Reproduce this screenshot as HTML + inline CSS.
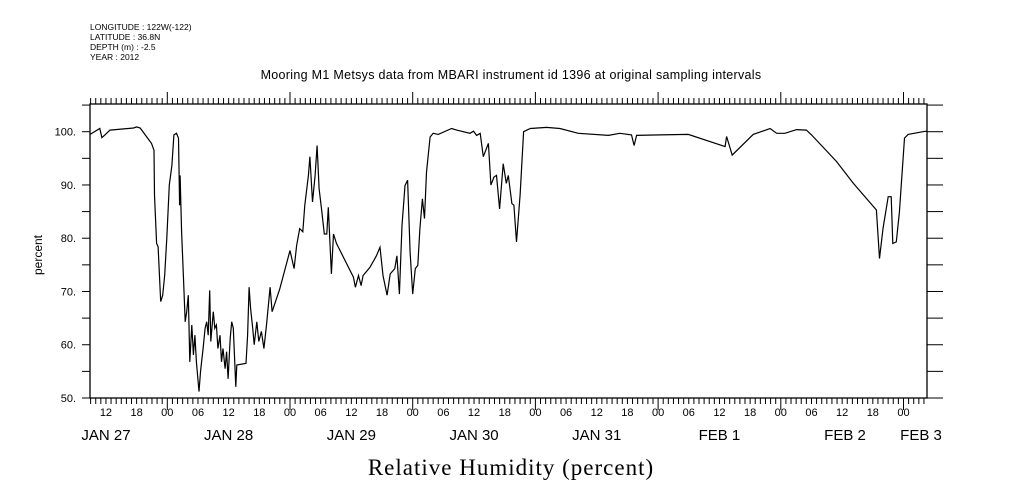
<!DOCTYPE html>
<html><head><meta charset="utf-8"><style>
body{margin:0;background:#fff;}
svg{display:block;font-family:"Liberation Sans",sans-serif;}
</style></head><body>
<svg width="1009" height="504" viewBox="0 0 1009 504">
<g font-size="8.5" fill="#000">
<text x="90" y="30">LONGITUDE : 122W(-122)</text>
<text x="90" y="40">LATITUDE : 36.8N</text>
<text x="90" y="50">DEPTH (m) : -2.5</text>
<text x="90" y="60">YEAR : 2012</text>
</g>
<text x="511" y="79" font-size="12.5" text-anchor="middle" letter-spacing="0.3">Mooring M1 Metsys data from MBARI instrument id 1396 at original sampling intervals</text>
<text transform="translate(42,255) rotate(-90)" font-size="12" text-anchor="middle">percent</text>
<text x="511" y="475" font-family="Liberation Serif, serif" font-size="23" text-anchor="middle" letter-spacing="1">Relative Humidity (percent)</text>
<rect x="90" y="104" width="837" height="294" fill="none" stroke="#000" stroke-width="1.3"/>
<g id="axes"></g>
<polyline id="series" fill="none" stroke="#000" stroke-width="1.2"/>
</svg>
<script>
const hours=[8.9,10.8,11.2,11.8,12.8,17.4,18,18.7,20,20.9,21.4,21.5,21.9,22.2,22.7,23.1,23.5,23.9,24.4,24.9,25.3,25.8,26.2,26.4,26.5,26.8,27.1,27.5,27.8,28.1,28.4,28.8,29.1,29.4,29.7,30.2,30.5,30.7,31,31.4,31.7,32,32.3,32.5,33,33.3,33.6,33.9,34.3,34.6,34.9,35.3,35.6,35.9,36.3,36.6,36.9,37.4,37.6,39.4,39.7,40,40.3,40.7,41,41.5,41.9,42.4,42.9,43.4,44.1,44.5,46,48,48.8,49.3,49.9,50.5,50.9,51.6,51.9,52.4,52.9,53.3,53.7,54.2,54.7,55.2,55.5,56.1,56.5,57.1,60.4,60.8,61.4,61.9,62.3,63.6,64.9,65.6,66.2,67,67.6,68.5,68.9,69.4,69.9,70.5,71,71.5,72,72.5,73,73.4,73.9,74.3,74.7,75.4,76,77,79.6,80.6,83.2,83.9,84.5,85.2,85.8,86.8,87.3,87.9,88.4,89,89.7,90.3,90.7,91.4,91.8,92.3,93,93.7,95,98.2,100.8,104.4,110.3,112.5,114.8,115.3,115.8,120.4,125.9,133.1,133.4,134.5,138.6,141.9,143.2,144.8,147.1,149,150,154.9,158.2,162.7,163.3,164,165,165.6,165.9,166.6,167.2,168.2,168.9,171.8,172.5];
const humidity=[99.5,100.6,98.9,99.4,100.3,100.7,100.9,100.7,99,97.8,96.5,88.1,79,78.4,68.1,69.3,73.1,80,90,93.7,99.4,99.7,98.8,86.2,91.8,81.2,74.3,64.3,66.2,69.3,56.8,63.7,58.1,61.8,56.8,51.2,54.9,56.8,59.3,63.1,64.3,61.8,70.2,60.6,66.2,63.1,63.7,59.3,61.8,56.8,59.3,55.5,58.7,53.6,61.2,64.3,63.1,52.1,56.2,56.5,61.8,70.8,66.8,63.1,60,64.3,60.6,62.5,59.3,63.7,70.8,66.2,70.5,77.7,74.3,78.6,81.8,81.2,86.2,91.8,95.3,86.8,91.8,97.4,89.3,85.2,80.8,80.8,85.8,73.3,80.8,79,72.7,70.8,73,71.1,73,74.5,76.7,78.3,73,69.3,73.3,74.3,76.7,69.5,82.4,89.9,90.9,77.4,69.5,74.3,74.9,81.8,87.4,83.7,92.4,99,99.7,99.5,100.6,100.3,99.7,100.1,99.3,99.7,95.3,97.8,90,91.5,91.8,85.5,94,90.3,91.8,86.5,86.2,79.3,88.1,100,100.6,100.8,100.6,99.7,99.3,99.7,99.4,97.4,99.3,99.4,99.5,97.2,99.1,95.6,99.5,100.6,99.7,99.7,100.4,100.3,99.4,94.4,90.3,85.3,76.2,81.8,87.8,87.8,79,79.3,84.9,98.8,99.5,100,100.1];
const yTickLabels=["50.","60.","70.","80.","90.","100."];
const yTickValues=[50,60,70,80,90,100];
const dateLabels=["JAN 27","JAN 28","JAN 29","JAN 30","JAN 31","FEB  1","FEB  2","FEB 3"];
const hourLabels=["00","06","12","18"];
const X0=44.6,PX=5.1125,XMIN=8.9,XMAX=172.6;
const L=90,R=927,T=104,B=398;
const xs=h=>X0+h*PX;
const ys=v=>B-(v-50)*5.326;
const ns="http://www.w3.org/2000/svg";
const g=document.getElementById('axes');
function mk(tag,attrs){const e=document.createElementNS(ns,tag);for(const k in attrs)e.setAttribute(k,attrs[k]);g.appendChild(e);return e;}
for(let h=Math.ceil(XMIN);h<=XMAX;h++){
 const x=xs(h),major=h%24===0;
 const t1=mk('line',{x1:x,x2:x,y1:B,y2:B+(major?12:6),stroke:'#000','stroke-width':1});
 
 
 const t2=mk('line',{x1:x,x2:x,y1:T,y2:T-(major?12:6),stroke:'#000','stroke-width':1});
 
 
 if(h%6===0){
  const tx=mk('text',{x:x,y:416,'font-size':11,'text-anchor':'middle'});
  tx.textContent=hourLabels[(h%24)/6];
  
  
 }
}
dateLabels.forEach((d,i)=>{
 let x=xs(i*24+12);
 if(i===7)x=921;
 if(i===6)x=845;
 const tx=mk('text',{x:x,y:440,'font-size':15,'text-anchor':'middle','xml:space':'preserve'});
 tx.textContent=d;
 
 
});
for(let v=50;v<=105;v+=5){
 const y=ys(v);
 const a=mk('line',{x1:L-8,x2:L,y1:y,y2:y,stroke:'#000','stroke-width':1});
 
 
 const b=mk('line',{x1:R,x2:R+16,y1:y,y2:y,stroke:'#000','stroke-width':1});
 
 
}
yTickValues.forEach((v,i)=>{
 const tx=mk('text',{x:76,y:ys(v)+4,'font-size':11,'text-anchor':'end'});
 tx.textContent=yTickLabels[i];
 
 
});
document.getElementById('series').setAttribute('points',hours.map((h,i)=>xs(h).toFixed(1)+','+ys(humidity[i]).toFixed(1)).join(' '));
</script>
</body></html>
